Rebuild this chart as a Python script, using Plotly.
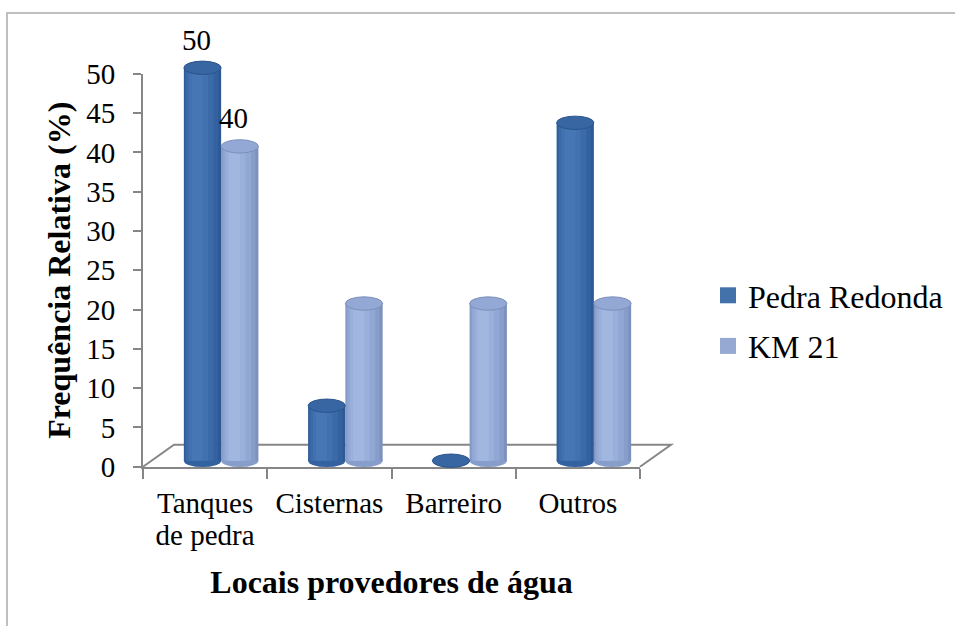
import plotly.graph_objects as go

# ---- data -------------------------------------------------------------
categories = ["Tanques<br>de pedra", "Cisternas", "Barreiro", "Outros"]
series_names = ["Pedra Redonda", "KM 21"]
pedra_redonda = [50, 7, 0, 43]
km_21 = [40, 20, 20, 20]
y_ticks = [0, 5, 10, 15, 20, 25, 30, 35, 40, 45, 50]
labelled_category = 0  # only the first group carries value labels

# category labels are set on two rows (tight line spacing)
first_row = [c.split("<br>")[0] for c in categories]
second_row = [c.split("<br>")[1] if "<br>" in c else "" for c in categories]

# ---- page geometry (pixels) -------------------------------------------
W, H = 955, 626
def px(x):
    return x / W
def py(y):
    return 1 - y / H

FONT = "Liberation Serif"
FS_TICK = 29
FS_TITLE = 32
FS_LEGEND = 32
AXIS_GREY = "#868686"

# plot area of the visible axes
X0, X1 = 143, 640
Y_ZERO, Y_TOP = 466.7, 73.8
k = (Y_ZERO - Y_TOP) / 50.0          # pixels per unit

# the cylinders sit a little deeper in the box: shifted right / up
DX, DY = 16, 6
Y2_LO, Y2_HI = -2, 54

# ---- cylinder styling --------------------------------------------------
BAR_W = 0.3
series = [
    dict(name=series_names[0], values=pedra_redonda, shift=-BAR_W / 2,
         legend="#4372AA",
         layers=[(1.00, 0.00, "#2D5A96"), (0.90, -0.03, "#3462A0"),
                 (0.74, -0.07, "#3B6AA8"), (0.52, -0.11, "#4171AF"),
                 (0.30, -0.14, "#4676B3")],
         top="#3866A3", top_line="#2A548C"),
    dict(name=series_names[1], values=km_21, shift=BAR_W / 2,
         legend="#95A9D3",
         layers=[(1.00, 0.00, "#7C91BD"), (0.90, -0.03, "#889ECA"),
                 (0.74, -0.07, "#92A8D4"), (0.52, -0.11, "#9AB0DB"),
                 (0.30, -0.14, "#A2B7E0")],
         top="#93A8D4", top_line="#7B8FBA"),
]

fig = go.Figure()
xs = list(range(len(categories)))
shapes = []
annotations = []

for s in series:
    for f, c, color in s["layers"]:
        centre = s["shift"] + c * BAR_W
        fig.add_trace(go.Bar(
            x=xs, y=s["values"], xaxis="x2", yaxis="y2",
            width=f * BAR_W, offset=centre - f * BAR_W / 2,
            marker=dict(color=color, line=dict(width=0)),
            showlegend=False, hoverinfo="skip",
        ))
    for i, v in enumerate(s["values"]):
        cx = i + s["shift"]
        # rounded base
        shapes.append(dict(type="circle", xref="x2", yref="y2", layer="below",
                           x0=cx - BAR_W / 2, x1=cx + BAR_W / 2, y0=-0.8, y1=0.8,
                           fillcolor=s["layers"][1][2], line=dict(width=0)))
        # top cap
        shapes.append(dict(type="circle", xref="x2", yref="y2", layer="above",
                           x0=cx - BAR_W / 2, x1=cx + BAR_W / 2, y0=v - 0.85, y1=v + 0.85,
                           fillcolor=s["top"], line=dict(color=s["top_line"], width=1)))
    v = s["values"][labelled_category]
    annotations.append(dict(xref="x2", yref="y2", x=labelled_category + s["shift"], y=v,
                            text=str(v), showarrow=False, yanchor="bottom",
                            xshift=-6, yshift=10,
                            font=dict(family=FONT, size=FS_TICK, color="black")))

# legend entries
for s in series:
    fig.add_trace(go.Scatter(
        x=[None], y=[None], mode="markers", name=s["name"],
        marker=dict(symbol="square", size=16, color=s["legend"]),
        legendgroup=s["name"],
    ))

# empty trace so the second row of category labels gets drawn
fig.add_trace(go.Scatter(x=[None], y=[None], xaxis="x3", yaxis="y",
                         mode="markers", showlegend=False, hoverinfo="skip"))

# floor of the 3D box
DEPTH_X, DEPTH_Y = 31, 22
floor = (f"M {px(X0)} {py(Y_ZERO)} L {px(X0 + DEPTH_X)} {py(Y_ZERO - DEPTH_Y)} "
         f"L {px(X1 + DEPTH_X)} {py(Y_ZERO - DEPTH_Y)} L {px(X1)} {py(Y_ZERO)}")
shapes.append(dict(type="path", xref="paper", yref="paper", path=floor,
                   line=dict(color=AXIS_GREY, width=2), layer="below"))

# chart frame (top and left edges)
frame = f"M {px(7)} {py(H + 2)} L {px(7)} {py(13)} L {px(W + 2)} {py(13)}"
shapes.append(dict(type="path", xref="paper", yref="paper", path=frame,
                   line=dict(color="#BFBFBF", width=2), layer="below"))

tick_font = dict(family=FONT, size=FS_TICK, color="black")
title_font = dict(family=FONT, size=FS_TITLE, color="black", weight="bold")

fig.update_layout(
    width=W, height=H,
    margin=dict(l=0, r=0, t=0, b=0),
    paper_bgcolor="white", plot_bgcolor="rgba(0,0,0,0)",
    barmode="overlay",
    font=dict(family=FONT, size=FS_TICK, color="black"),
    xaxis=dict(
        domain=[px(X0), px(X1)], range=[-0.5, 3.5], anchor="y",
        tickvals=xs, ticktext=first_row, ticks="", tickfont=tick_font,
        showline=True, linecolor=AXIS_GREY, linewidth=2,
        showgrid=False, zeroline=False, automargin=False,
        ticklabelstandoff=9,
        minor=dict(ticks="outside", tick0=-0.5, dtick=1, ticklen=10,
                   tickcolor=AXIS_GREY, tickwidth=2, showgrid=False),
        fixedrange=True,
    ),
    xaxis3=dict(
        overlaying="x", range=[-0.5, 3.5], anchor="y", side="bottom",
        tickvals=xs, ticktext=second_row, ticks="", tickfont=tick_font,
        showline=False, showgrid=False, zeroline=False, automargin=False,
        ticklabelstandoff=48,
        title=dict(text="Locais provedores de água", standoff=20, font=title_font),
        fixedrange=True,
    ),
    yaxis=dict(
        domain=[py(Y_ZERO), py(Y_TOP)], range=[0, 50], anchor="x",
        tickvals=y_ticks, ticks="outside", ticklen=8, tickfont=tick_font,
        tickcolor=AXIS_GREY, tickwidth=2,
        showline=True, linecolor=AXIS_GREY, linewidth=2,
        showgrid=False, zeroline=False, automargin=False,
        ticklabelstandoff=12,
        title=dict(text="Frequência Relativa (%)", standoff=6, font=title_font),
        fixedrange=True,
    ),
    xaxis2=dict(
        domain=[px(X0 + DX), px(X1 + DX)], range=[-0.5, 3.5], anchor="y2",
        visible=False, fixedrange=True,
    ),
    yaxis2=dict(
        domain=[py(Y_ZERO - DY - Y2_LO * k), py(Y_ZERO - DY - Y2_HI * k)],
        range=[Y2_LO, Y2_HI], anchor="x2", visible=False, fixedrange=True,
    ),
    legend=dict(
        x=px(708), y=py(268), xanchor="left", yanchor="top",
        bgcolor="rgba(0,0,0,0)", tracegroupgap=6, traceorder="grouped",
        font=dict(family=FONT, size=FS_LEGEND, color="black"),
        itemsizing="trace",
    ),
    shapes=shapes,
    annotations=annotations,
)

fig.write_html("out.html")
